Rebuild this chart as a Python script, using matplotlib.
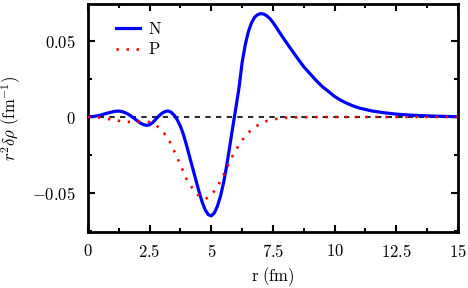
import matplotlib
matplotlib.use("Agg")
import matplotlib.pyplot as plt
from matplotlib.ticker import MultipleLocator, FuncFormatter

plt.rcParams['mathtext.fontset'] = 'cm'
plt.rcParams['font.family'] = 'serif'
plt.rcParams['font.serif'] = ['cmr10', 'DejaVu Serif']
plt.rcParams['axes.formatter.use_mathtext'] = True

# Datos
r_n = [0, 0.25, 0.5, 0.75, 1.0, 1.125, 1.25, 1.375, 1.5, 1.625, 1.75, 1.875, 2.0,
       2.125, 2.25, 2.375, 2.5, 2.625, 2.75, 2.875, 3.0, 3.125, 3.25, 3.375, 3.5,
       3.625, 3.75, 3.875, 4.0, 4.125, 4.25, 4.375, 4.5, 4.625, 4.75, 4.875, 5.0,
       5.125, 5.25, 5.375, 5.5, 5.625, 5.75, 5.875, 6.0, 6.125, 6.25, 6.375, 6.5,
       6.625, 6.75, 6.875, 7.0, 7.125, 7.25, 7.375, 7.5, 7.625, 7.75, 8.0, 8.25,
       8.5, 8.75, 9.0, 9.25, 9.5, 9.75, 10.0, 10.25, 10.5, 10.75, 11.0, 11.5,
       12.0, 12.5, 13.0, 13.5, 14.0, 14.5, 15.0]
rho_n = [0, 0.0004, 0.0012, 0.0024, 0.0034, 0.0038, 0.0039, 0.0036, 0.0029,
         0.0019, 0.0006, -0.0009, -0.0025, -0.0040, -0.0050, -0.0055, -0.0051,
         -0.0036, -0.0014, 0.0007, 0.0025, 0.0036, 0.0040, 0.0031, 0.0011,
         -0.0020, -0.0062, -0.0118, -0.0188, -0.0265, -0.0340, -0.0415, -0.0490,
         -0.0557, -0.0610, -0.0642, -0.0650, -0.0630, -0.0585, -0.0518, -0.0430,
         -0.0318, -0.0190, -0.0060, 0.0065, 0.0195, 0.0360, 0.0475, 0.0560,
         0.0618, 0.0655, 0.0673, 0.0680, 0.0677, 0.0665, 0.0647, 0.0622, 0.0592,
         0.0560, 0.0500, 0.0442, 0.0385, 0.0330, 0.0285, 0.0240, 0.0200, 0.0168,
         0.0135, 0.0110, 0.0090, 0.0073, 0.0059, 0.0040, 0.0028, 0.0019, 0.0013,
         0.0009, 0.0006, 0.0004, 0.0002]

r_p = [0, 0.25, 0.5, 0.75, 1.0, 1.25, 1.5, 1.75, 2.0, 2.25, 2.5, 2.75, 3.0, 3.25,
       3.5, 3.75, 4.0, 4.25, 4.5, 4.75, 5.0, 5.25, 5.5, 5.75, 6.0, 6.25, 6.5,
       6.75, 7.0, 7.25, 7.5, 7.75, 8.0, 8.5, 9.0, 10.0, 11.0, 12.0, 13.0, 14.0, 15.0]
rho_p = [0, -0.0001, -0.0004, -0.0011, -0.0018, -0.0025, -0.0031, -0.0032,
         -0.0029, -0.0028, -0.0033, -0.0052, -0.0090, -0.0140, -0.0225, -0.0315,
         -0.0410, -0.0472, -0.0520, -0.0540, -0.0515, -0.0458, -0.0380, -0.0290,
         -0.0215, -0.0152, -0.0103, -0.0068, -0.0042, -0.0026, -0.0016, -0.0009,
         -0.0005, -0.0002, -0.0001, 0, 0, 0, 0, 0, 0]

fig = plt.figure(figsize=(4.68, 2.88), dpi=100)
ax = fig.add_axes([0.188, 0.194, 0.7906, 0.792])

ax.axhline(0, color='black', lw=1.2, linestyle=(0, (3.2, 3.2)), zorder=1)
ax.plot(r_n, rho_n, color='blue', lw=2.3, label=r'$\mathrm{N}$', zorder=2)
ax.plot(r_p, rho_p, color='red', lw=1.9, linestyle=(0, (0.9, 2.9)),
        label=r'$\mathrm{P}$', zorder=3)

ax.set_xlim(0, 15)
ax.set_ylim(-0.0757, 0.0743)

ax.xaxis.set_major_locator(MultipleLocator(2.5))
ax.xaxis.set_minor_locator(MultipleLocator(1.25))
ax.yaxis.set_major_locator(MultipleLocator(0.05))
ax.yaxis.set_minor_locator(MultipleLocator(0.025))

def fmt(v, pos):
    return '$%g$' % round(v, 4)

ax.xaxis.set_major_formatter(FuncFormatter(fmt))
ax.yaxis.set_major_formatter(FuncFormatter(fmt))

ax.tick_params(which='both', direction='in', top=True, right=True,
               labelsize=12, width=1.5)
ax.tick_params(which='major', length=5)
ax.tick_params(which='minor', length=3)
ax.tick_params(axis='x', pad=8)
ax.tick_params(axis='y', pad=9)
for s in ax.spines.values():
    s.set_linewidth(2)

ax.set_xlabel(r'$\mathrm{r\ (fm)}$', fontsize=12)
ax.set_ylabel(r'$r^2\delta\rho\ (\mathrm{fm}^{-1})$', fontsize=12)
ax.xaxis.set_label_coords(0.5, -0.145)
ax.yaxis.set_label_coords(-0.175, 0.5)

ax.legend(loc='upper left', bbox_to_anchor=(0.035, 0.99), frameon=False,
          fontsize=12, handlelength=1.45, handletextpad=0.5, labelspacing=0.25)

fig.savefig('out.png', dpi=100)
